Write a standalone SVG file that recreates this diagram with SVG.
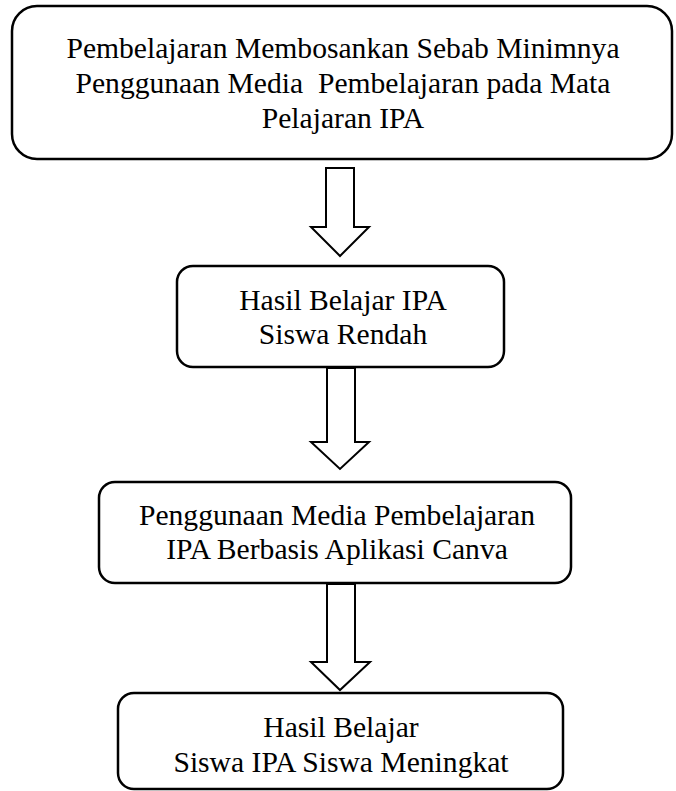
<svg xmlns="http://www.w3.org/2000/svg" width="676" height="791" viewBox="0 0 676 791">
<style>
.box{fill:#fff;stroke:#000;stroke-width:2.5}
.arr{fill:#fff;stroke:#000;stroke-width:2;stroke-linejoin:miter}
text{font-family:"Liberation Serif","Times New Roman",serif;font-size:29.6px;fill:#000;text-anchor:middle}
</style>
<rect width="676" height="791" fill="#fff"/>
<g id="connectors">
<polygon class="arr" points="326,168 354,168 354,227 369,227 340,256 311,227 326,227"/>
<polygon class="arr" points="327,368 355,368 355,442 369,442 340,469 311,442 327,442"/>
<polygon class="arr" points="327,584 355,584 355,662 370,662 340,690 311,662 327,662"/>
</g>
<g id="n1">
<rect class="box" x="12" y="6" width="660" height="153" rx="25" ry="25"/>
<text x="343" y="58">Pembelajaran Membosankan Sebab Minimnya</text>
<text x="343" y="93" xml:space="preserve">Penggunaan Media  Pembelajaran pada Mata</text>
<text x="343" y="128">Pelajaran IPA</text>
</g>
<g id="n2">
<rect class="box" x="177" y="266" width="327" height="101" rx="16" ry="16"/>
<text x="343" y="310">Hasil Belajar IPA</text>
<text x="343" y="344">Siswa Rendah</text>
</g>
<g id="n3">
<rect class="box" x="99" y="482" width="472" height="101" rx="16" ry="16"/>
<text x="337" y="525">Penggunaan Media Pembelajaran</text>
<text x="337" y="559">IPA Berbasis Aplikasi Canva</text>
</g>
<g id="n4">
<rect class="box" x="118" y="693" width="445" height="96" rx="16" ry="16"/>
<text x="341" y="737">Hasil Belajar</text>
<text x="341" y="772">Siswa IPA Siswa Meningkat</text>
</g>
</svg>
